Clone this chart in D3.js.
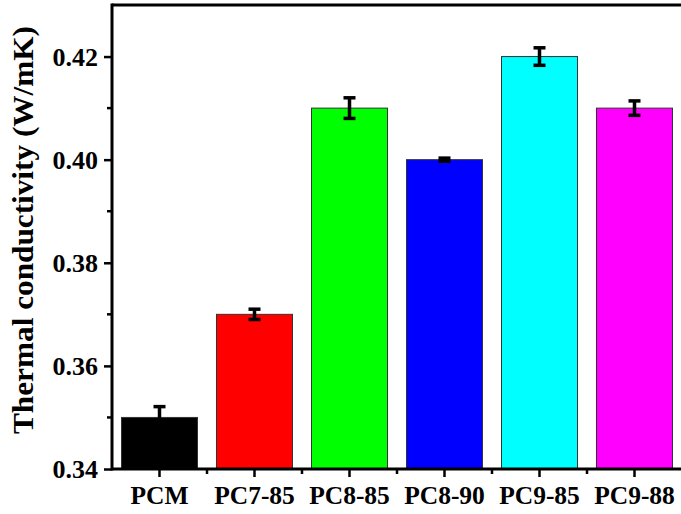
<!DOCTYPE html>
<html>
<head>
<meta charset="utf-8">
<script src="https://cdn.jsdelivr.net/npm/d3@7"></script>
<style>
  body { margin: 0; background: #fff; }
  svg { display: block; }
  text { font-family: "Liberation Serif", "Times New Roman", serif; font-weight: bold; fill: #000; }
</style>
</head>
<body>
<svg id="chart" width="681" height="514"></svg>
<script>
// Thermal conductivity bar chart with error bars
const categories = ['PCM', 'PC7-85', 'PC8-85', 'PC8-90', 'PC9-85', 'PC9-88'];
const values = [0.350, 0.370, 0.410, 0.400, 0.420, 0.410];
const errors = [0.0021, 0.0010, 0.0020, 0.0003, 0.0017, 0.0014];
const colors = ['#000000', '#ff0000', '#00ff00', '#0000ff', '#00ffff', '#ff00ff'];
const yTicks = [0.34, 0.36, 0.38, 0.40, 0.42];
const yMinorTicks = [0.35, 0.37, 0.39, 0.41];

const svg = d3.select('#chart');
const plotLeft = 112, plotRight = 682, plotTop = 5, plotBottom = 469;

const x = d3.scaleBand()
  .domain(categories)
  .range([plotLeft, plotRight])
  .paddingInner(0.2)
  .paddingOuter(0.1);

const y = d3.scaleLinear()
  .domain([0.34, 0.43])
  .range([plotBottom, plotTop]);

// bars
svg.append('g')
  .selectAll('rect')
  .data(categories)
  .join('rect')
  .attr('x', d => x(d))
  .attr('y', (d, i) => y(values[i]))
  .attr('width', x.bandwidth())
  .attr('height', (d, i) => plotBottom - y(values[i]))
  .attr('fill', (d, i) => colors[i])
  .attr('stroke', '#333')
  .attr('stroke-width', 1);

// error bars
const eb = svg.append('g')
  .attr('stroke', '#000')
  .attr('stroke-width', 3.5);
categories.forEach((c, i) => {
  const cx = x(c) + x.bandwidth() / 2;
  const y1 = y(values[i] + errors[i]);
  const y2 = y(values[i] - errors[i]);
  eb.append('line').attr('x1', cx).attr('x2', cx).attr('y1', y1).attr('y2', y2);
  eb.append('line').attr('x1', cx - 6).attr('x2', cx + 6).attr('y1', y1).attr('y2', y1);
  eb.append('line').attr('x1', cx - 6).attr('x2', cx + 6).attr('y1', y2).attr('y2', y2);
});

// y axis
const yAxis = svg.append('g')
  .attr('transform', `translate(${plotLeft},0)`)
  .call(d3.axisLeft(y).tickValues(yTicks).tickFormat(d3.format('.2f')).tickSize(8).tickPadding(6));
yAxis.select('.domain').remove();
yAxis.selectAll('.tick line').attr('stroke-width', 2.5);
yAxis.selectAll('.tick text')
  .style('font-size', '26px')
  .attr('dy', '0.34em');

svg.append('g')
  .selectAll('line')
  .data(yMinorTicks)
  .join('line')
  .attr('x1', plotLeft - 5)
  .attr('x2', plotLeft)
  .attr('y1', d => y(d))
  .attr('y2', d => y(d))
  .attr('stroke', '#000')
  .attr('stroke-width', 2.5);

// x axis
const xAxis = svg.append('g')
  .attr('transform', `translate(0,${plotBottom})`)
  .call(d3.axisBottom(x).tickSize(8).tickPadding(9));
xAxis.select('.domain').remove();
xAxis.selectAll('.tick line').attr('stroke-width', 2.5);
xAxis.selectAll('.tick text')
  .style('font-size', '25.5px')
  .attr('dy', '0.71em');

// minor x ticks between bars
svg.append('g')
  .selectAll('line')
  .data(categories.slice(1))
  .join('line')
  .attr('x1', d => x(d) - x.step() * 0.1)
  .attr('x2', d => x(d) - x.step() * 0.1)
  .attr('y1', plotBottom)
  .attr('y2', plotBottom + 5)
  .attr('stroke', '#000')
  .attr('stroke-width', 2.5);

// frame
const frame = svg.append('g').attr('stroke', '#000').attr('stroke-width', 3).attr('fill', 'none');
frame.append('line').attr('x1', plotLeft).attr('x2', plotRight).attr('y1', plotBottom).attr('y2', plotBottom);
frame.append('line').attr('x1', plotLeft).attr('x2', plotRight).attr('y1', plotTop).attr('y2', plotTop);
frame.append('line').attr('x1', plotLeft).attr('x2', plotLeft).attr('y1', plotTop - 1.5).attr('y2', plotBottom + 1.5);

// y label
svg.append('text')
  .attr('transform', `translate(33,${(26 + 434) / 2}) rotate(-90)`)
  .attr('text-anchor', 'middle')
  .attr('textLength', 408)
  .attr('lengthAdjust', 'spacingAndGlyphs')
  .style('font-size', '30px')
  .text('Thermal conductivity (W/mK)');
</script>
</body>
</html>
